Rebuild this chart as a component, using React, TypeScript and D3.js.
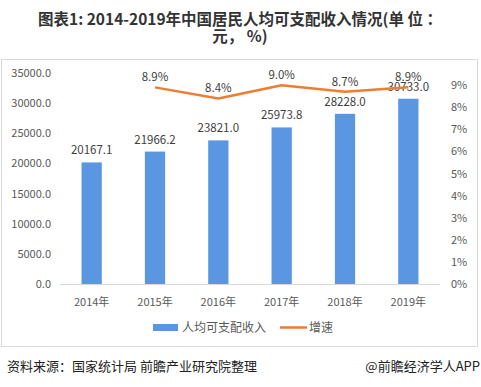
import React from "react";
import * as d3 from "d3";

const categories = ["2014年", "2015年", "2016年", "2017年", "2018年", "2019年"];
const incomeValues = [20167.1, 21966.2, 23821.0, 25973.8, 28228.0, 30733.0];
const growthYears = ["2015年", "2016年", "2017年", "2018年", "2019年"];
const growthValues = [8.9, 8.4, 9.0, 8.7, 8.9];
const leftTicks = [0, 5000, 10000, 15000, 20000, 25000, 30000, 35000];
const rightTicks = [0, 1, 2, 3, 4, 5, 6, 7, 8, 9];

const W = 481;
const H = 387;
const plotLeft = 60;
const plotRight = 440;
const plotTop = 73;
const plotBottom = 284;
const font = "'Microsoft YaHei', 'Noto Sans CJK SC', 'Noto Sans', sans-serif";
const barColor = "#5b96e3";
const lineColor = "#ed7d31";
const axisText = "#595959";
const labelText = "#404040";

export default function App() {
  const x = d3.scaleBand().domain(categories).range([plotLeft, plotRight]).paddingInner(0.68).paddingOuter(0.34);
  const yL = d3.scaleLinear().domain([0, 35000]).range([plotBottom, plotTop]);
  const yR = d3.scaleLinear().domain([0, 9.55]).range([plotBottom, plotTop]);
  const cx = (c: string) => (x(c) as number) + x.bandwidth() / 2;
  const line = d3
    .line<number>()
    .x((_, i) => cx(growthYears[i]))
    .y((d) => yR(d));

  return (
    <svg width={W} height={H} style={{ position: "absolute", left: 0, top: 0, background: "#fff" }}>
      <rect x={0} y={0} width={W} height={H} fill="#fff" />
      <text x={240} y={25} textAnchor="middle" fontFamily={font} fontWeight="bold" fontSize={15.5} fill="#333">
        图表1: 2014-2019年中国居民人均可支配收入情况(单 位 ：
      </text>
      <text x={240} y={41.5} textAnchor="middle" fontFamily={font} fontWeight="bold" fontSize={15.5} fill="#333">
        元， %)
      </text>
      <rect x={1.5} y={59.5} width={476} height={287} fill="none" stroke="#d9d9d9" strokeWidth={1} />

      {leftTicks.map((t) => (
        <text key={"l" + t} x={51} y={yL(t) + 4} textAnchor="end" fontFamily={font} fontSize={11} fill={axisText}>
          {t.toFixed(1)}
        </text>
      ))}
      {rightTicks.map((t) => (
        <text key={"r" + t} x={451} y={yR(t) + 4} textAnchor="start" fontFamily={font} fontSize={11} fill={axisText}>
          {t + "%"}
        </text>
      ))}

      {categories.map((c, i) => (
        <g key={c}>
          <rect x={x(c)} y={yL(incomeValues[i])} width={x.bandwidth()} height={plotBottom - yL(incomeValues[i])} fill={barColor} />
          <text x={cx(c)} y={yL(incomeValues[i]) - 8} textAnchor="middle" fontFamily={font} fontSize={11.5} fill={labelText}>
            {incomeValues[i].toFixed(1)}
          </text>
          <text x={cx(c)} y={306} textAnchor="middle" fontFamily={font} fontSize={11} fill={axisText}>
            {c}
          </text>
        </g>
      ))}
      <line x1={plotLeft} x2={plotRight} y1={plotBottom + 0.5} y2={plotBottom + 0.5} stroke="#d9d9d9" strokeWidth={1} />

      <path d={line(growthValues) || ""} fill="none" stroke={lineColor} strokeWidth={2.5} strokeLinejoin="round" />
      {growthValues.map((v, i) => (
        <text key={"g" + i} x={cx(growthYears[i])} y={yR(v) - 6} textAnchor="middle" fontFamily={font} fontSize={11.5} fill={labelText}>
          {v.toFixed(1) + "%"}
        </text>
      ))}

      <rect x={153} y={324} width={25} height={7} fill={barColor} />
      <text x={182} y={332} fontFamily={font} fontSize={12} fill={axisText}>
        人均可支配收入
      </text>
      <line x1={280} x2={307} y1={327.5} y2={327.5} stroke={lineColor} strokeWidth={2.5} />
      <text x={309} y={332} fontFamily={font} fontSize={12} fill={axisText}>
        增速
      </text>

      <text x={7} y={371} fontFamily={font} fontSize={13} fill="#222">
        资料来源：国家统计局 前瞻产业研究院整理
      </text>
      <text x={480} y={371} textAnchor="end" fontFamily={font} fontSize={13} fill="#222">
        @前瞻经济学人APP
      </text>
    </svg>
  );
}
